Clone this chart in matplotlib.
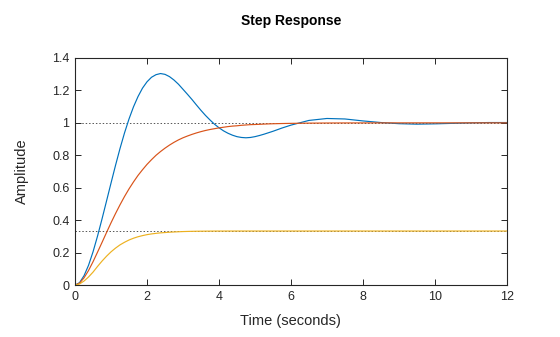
import matplotlib
matplotlib.use("Agg")
import matplotlib.pyplot as plt

# time samples (seconds)
t = [0, 0.125, 0.25, 0.375, 0.5, 0.625, 0.75, 0.875,
     1.0, 1.125, 1.25, 1.375, 1.5, 1.625, 1.75, 1.875,
     2.0, 2.125, 2.25, 2.375, 2.5, 2.625, 2.75, 2.875,
     3.0, 3.125, 3.25, 3.375, 3.5, 3.625, 3.75, 3.875,
     4.0, 4.125, 4.25, 4.375, 4.5, 4.625, 4.75, 4.875,
     5.0, 5.125, 5.25, 5.375, 5.5, 5.625, 5.75, 5.875,
     6.0, 6.5, 7.0, 7.5, 8.0, 8.5, 9.0, 9.5, 10.0, 10.5, 11.0, 11.5, 12.0]

# underdamped response (blue)
y_blue = [0, 0.015, 0.058, 0.122, 0.205, 0.302, 0.408, 0.518,
          0.629, 0.738, 0.842, 0.938, 1.024, 1.099, 1.162, 1.214,
          1.253, 1.281, 1.297, 1.304, 1.299, 1.285, 1.264, 1.238,
          1.207, 1.176, 1.144, 1.110, 1.077, 1.046, 1.018, 0.992,
          0.970, 0.951, 0.936, 0.924, 0.915, 0.910, 0.908, 0.910,
          0.915, 0.922, 0.930, 0.939, 0.948, 0.958, 0.968, 0.977,
          0.986, 1.015, 1.027, 1.024, 1.012, 1.002, 0.995, 0.992,
          0.994, 0.997, 1.000, 1.002, 1.002]

# critically damped response (orange)
y_orange = [0, 0.012, 0.045, 0.090, 0.144, 0.203, 0.263, 0.324,
            0.384, 0.441, 0.495, 0.546, 0.593, 0.636, 0.676, 0.711,
            0.744, 0.773, 0.800, 0.823, 0.844, 0.863, 0.880, 0.895,
            0.908, 0.919, 0.929, 0.938, 0.946, 0.953, 0.959, 0.964,
            0.969, 0.973, 0.977, 0.980, 0.982, 0.985, 0.987, 0.989,
            0.990, 0.991, 0.9925, 0.9936, 0.9945, 0.9952, 0.9959, 0.9964,
            0.9969, 0.9983, 0.9991, 0.9995, 0.9997, 0.9998, 0.9999, 1.0,
            1.0, 1.0, 1.0, 1.0, 1.0]

# low-gain response (yellow), settles at 1/3
y_yellow = [0, 0.007, 0.025, 0.050, 0.080, 0.115, 0.148, 0.178,
            0.205, 0.228, 0.248, 0.264, 0.278, 0.289, 0.298, 0.305,
            0.311, 0.3155, 0.319, 0.322, 0.324, 0.326, 0.3275, 0.3288,
            0.330, 0.3308, 0.3315, 0.332, 0.3323, 0.3326, 0.3328, 0.333,
            0.3331, 0.3331, 0.3332, 0.3332, 0.3333, 0.3333, 0.3333, 0.3333,
            0.3333, 0.3333, 0.3333, 0.3333, 0.3333, 0.3333, 0.3333, 0.3333,
            0.3333, 0.3333, 0.3333, 0.3333, 0.3333, 0.3333, 0.3333, 0.3333,
            0.3333, 0.3333, 0.3333, 0.3333, 0.3333]

steady_states = [1.0, 1 / 3]

plt.rcParams["font.family"] = ["Liberation Sans", "DejaVu Sans"]
axis_color = "#262626"

fig = plt.figure(figsize=(5.6, 3.37), dpi=100)
ax = fig.add_axes([0.134, 0.154, 0.771, 0.674])

# dotted steady-state markers
for ss in steady_states:
    ax.axhline(ss, color="#555555", linestyle=(0, (1.5, 2)), linewidth=0.7, zorder=1)

ax.plot(t, y_blue, color="#0072BD", linewidth=0.85)
ax.plot(t, y_orange, color="#D95319", linewidth=0.85)
ax.plot(t, y_yellow, color="#EDB120", linewidth=0.85)

ax.set_xlim(0, 12)
ax.set_ylim(0, 1.4)
ax.set_xticks([0, 2, 4, 6, 8, 10, 12])
ax.set_yticks([0, 0.2, 0.4, 0.6, 0.8, 1.0, 1.2, 1.4])
ax.set_yticklabels(["0", "0.2", "0.4", "0.6", "0.8", "1", "1.2", "1.4"])

ax.tick_params(direction="in", length=4, width=0.7, top=True, right=True,
               labelsize=9, colors=axis_color, pad=4)
for s in ax.spines.values():
    s.set_color(axis_color)
    s.set_linewidth(0.8)

ax.set_xlabel("Time (seconds)", fontsize=10.5, color=axis_color, labelpad=8)
ax.set_ylabel("Amplitude", fontsize=10.5, color=axis_color, labelpad=17)
ax.set_title("Step Response", fontsize=10, fontweight="bold", color="black", pad=24)

fig.savefig("out.png", dpi=100)
